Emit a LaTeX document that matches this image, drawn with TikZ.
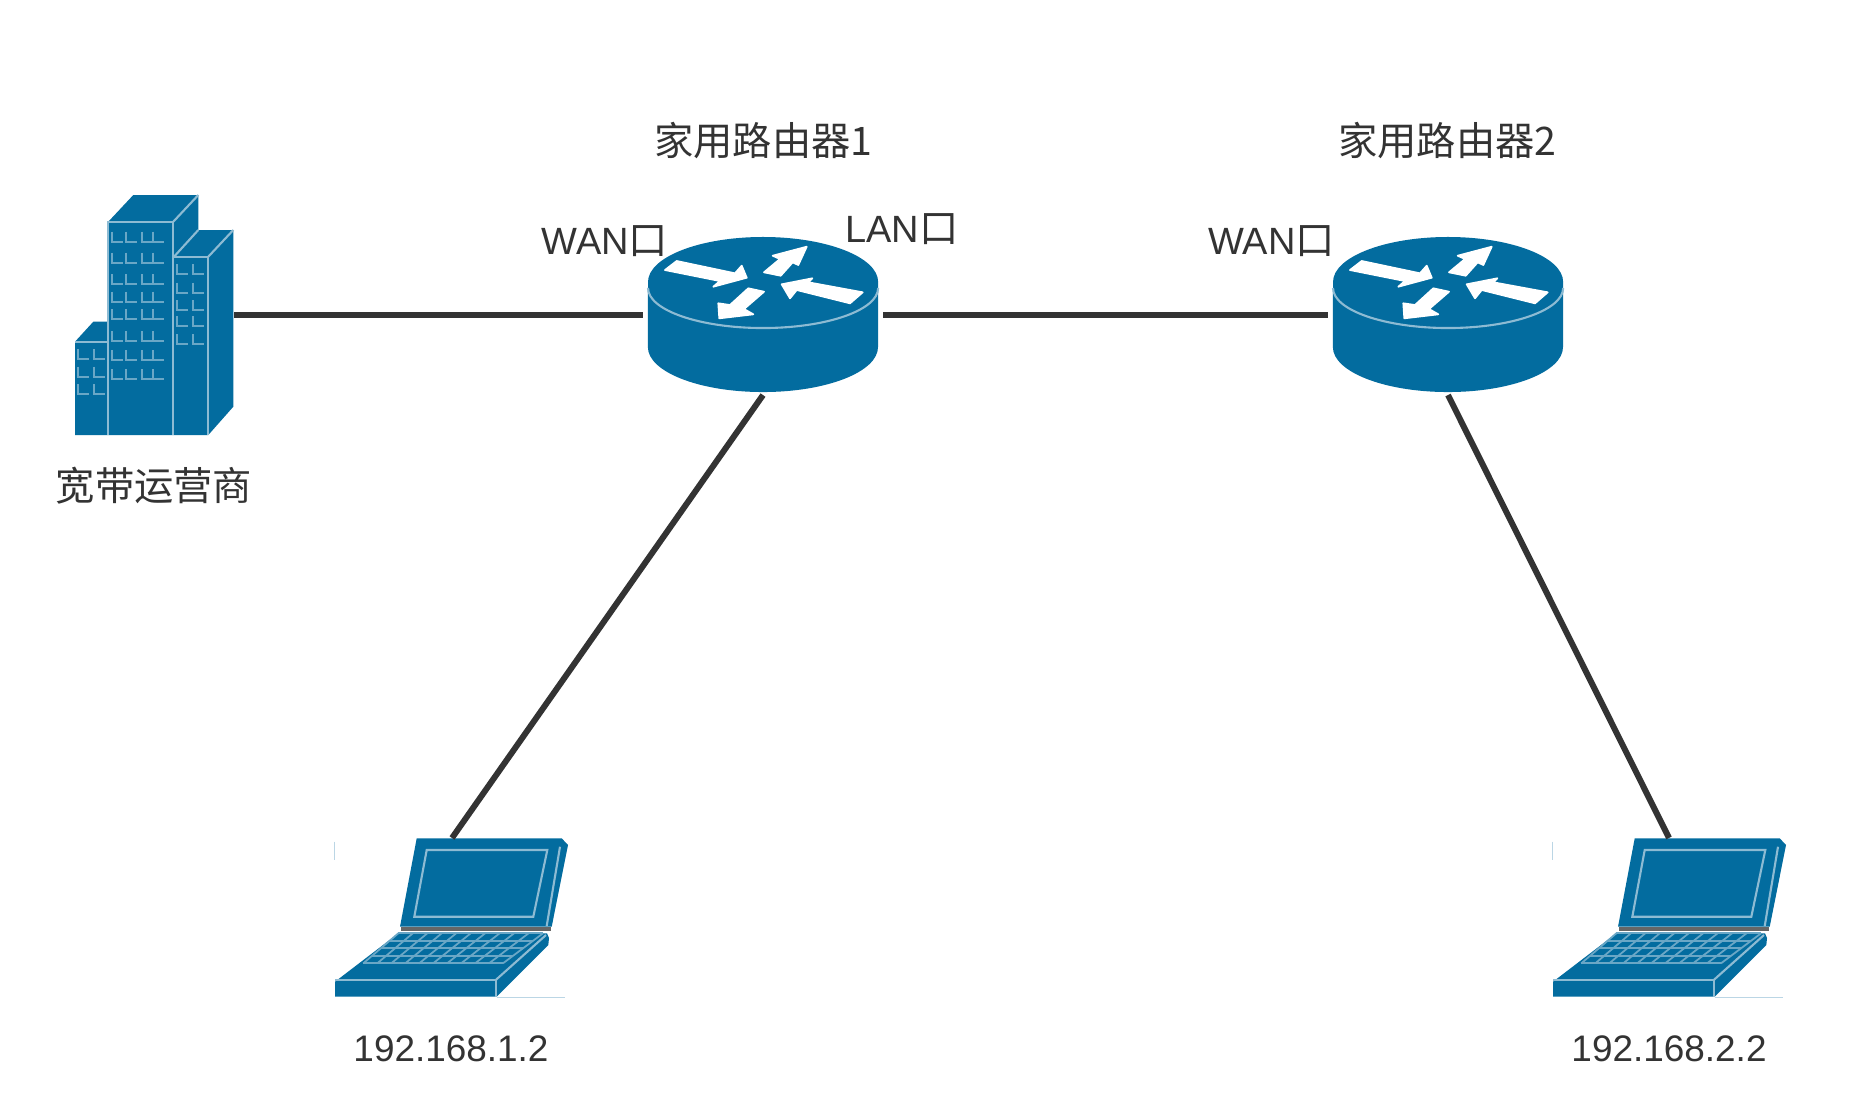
\documentclass[tikz,border=0pt]{standalone}
\usepackage{fontspec}
\setmainfont{Liberation Sans}
\newfontfamily\cjk[Scale=1.035]{Noto Sans CJK SC}
\definecolor{iconblue}{HTML}{036C9F}
\definecolor{iconline}{HTML}{8DBBD3}
\definecolor{wireink}{HTML}{333333}
\tikzset{
    wire/.style={draw=wireink, line width=1.7pt},
    caption/.style={text=wireink, font=\fontsize{10.8}{13}\selectfont, inner sep=0pt},
    ipcaption/.style={caption, font=\fontsize{10.5}{13}\selectfont},
    iconbox/.style={inner sep=0pt, outer sep=0pt},
    edgeline/.style={draw=iconline, line width=.6pt},
    fineline/.style={draw=iconline!75!iconblue, line width=.5pt},
    faintline/.style={draw=iconline!60!white, line width=.4pt},
    arrowmark/.style={fill=white, draw=white, line width=.5pt, line join=round},
    pics/tower/.style={code={
        \fill[iconblue] (0,146.7) -- (18.3,126.7) -- (33.3,126.7) -- (33.3,26.7) -- (58.3,0) -- (123.3,0)
            -- (123.3,35) -- (158.3,35) -- (158.3,211.7) -- (133.3,240) -- (0,240) -- cycle;
        \draw[edgeline] (33.3,240) -- (33.3,26.7) -- (98.3,26.7) -- (98.3,240);
        \draw[edgeline] (98.3,26.7) -- (123.3,0);
        \draw[edgeline] (99,61.7) -- (133.3,61.7) -- (133.3,240);
        \draw[edgeline] (133.3,61.7) -- (158.3,35);
        \draw[edgeline] (99,61.7) -- (123.3,35);
        \draw[edgeline] (0,146.7) -- (33.3,146.7);
        \foreach \wy in {46.7,67.7,89,106.7,124.3,146,165,184.3}
            \foreach \wx in {36.7,51,66.7,78.3}
                \draw[fineline] (\wx,\wy-10) -- (\wx,\wy) -- (\wx+11,\wy);
        \foreach \wy in {79.3,97.7,115,131,149}
            \foreach \wx in {102.3,117.7}
                \draw[fineline] (\wx,\wy-10) -- (\wx,\wy) -- (\wx+11,\wy);
        \foreach \wy in {164,181.7,199.3}
            \foreach \wx in {3.3,19.3}
                \draw[fineline] (\wx,\wy-10) -- (\wx,\wy) -- (\wx+11,\wy);
    }},
    pics/routericon/.style={code={
        \fill[iconblue] (-115,-33) arc[start angle=180, end angle=0, x radius=1.15cm, y radius=.45cm]
            -- (115,32) arc[start angle=0, end angle=-180, x radius=1.15cm, y radius=.45cm] -- cycle;
        \draw[edgeline] (-115,-27) arc[start angle=180, end angle=360, x radius=1.15cm, y radius=.4cm];
        \path[arrowmark] (-98,-45) -- (-86.3,-54) -- (-28,-41.7) -- (-21.3,-49.3) -- (-16.3,-37.3) -- (-49.7,-28.3) -- (-43,-34) -- cycle;
        \path[arrowmark] (1,-42.7) -- (17,-56) -- (9.7,-59.3) -- (43.7,-68.3) -- (35.3,-50) -- (29.7,-52.7) -- (17.7,-39.3) -- cycle;
        \path[arrowmark] (99.7,-22.7) -- (87,-11.7) -- (33.7,-25) -- (27,-16.7) -- (18.7,-30.7) -- (49.3,-36.7) -- (45.3,-32.7) -- cycle;
        \path[arrowmark] (-14.7,-26.7) -- (1,-23.3) -- (-19,-6) -- (-9.7,-.7) -- (-43.7,3.3) -- (-44.7,-11.7) -- (-33,-10) -- cycle;
    }},
    pics/laptopicon/.style={code={
        % lid
        \fill[iconblue] (81.7,.3) -- (226.7,.3) -- (233,7) -- (216.7,88.7) -- (65,88.7) -- cycle;
        \fill[black!60] (66,88.7) rectangle (216,92.7);
        \draw[edgeline] (91.7,12) -- (212.3,12) -- (198.3,78.7) -- (79.3,78.7) -- cycle;
        \draw[edgeline] (225,8.7) -- (211.7,88);
        % keyboard
        \fill[iconblue] (63.3,95.3) -- (212,95.3) -- (214,100) -- (213.3,107) -- (161.7,158.7) -- (0,158.7) -- (0,143.7) -- cycle;
        \draw[edgeline] (0,142) -- (160.7,142) -- (160.7,158.7);
        \draw[edgeline] (160.7,142) -- (211,97);
        \foreach \t in {0,.25,.5,.75,1}
            \draw[fineline] ({63.3-35*\t},{95.3+30*\t}) -- ({208-40*\t},{95.3+30*\t});
        \foreach \k in {0,...,10}
            \draw[fineline] ({63.3+14.47*\k},95.3) -- ({28.3+13.97*\k},125.3);
        \draw[faintline] (161.7,159.3) -- (230,159.3);
        \draw[faintline] (-.7,3.7) -- (-.7,22);
    }},
}
\begin{document}
\begin{tikzpicture}[x=.01cm, y=-.01cm]
    \useasboundingbox (0,0) rectangle (1861,1111);
    \fill[white] (0,0) rectangle (1861,1111);

    % icons, each one under an empty box that the wires end on
    \node[iconbox, minimum width=1.59cm, minimum height=2.4cm] (isp) at (154.5,315) {};
    \pic at (75,195) {tower};
    \node[iconbox, minimum width=2.4cm, minimum height=1.6cm] (router1) at (763,315) {};
    \pic at (763,315) {routericon};
    \node[iconbox, minimum width=2.4cm, minimum height=1.6cm] (router2) at (1448,315) {};
    \pic at (1448,315) {routericon};
    \node[iconbox, minimum width=2.34cm, minimum height=1.59cm] (laptop1) at (452,917.5) {};
    \pic at (335,838) {laptopicon};
    \node[iconbox, minimum width=2.32cm, minimum height=1.59cm] (laptop2) at (1669,917.5) {};
    \pic at (1553,838) {laptopicon};

    \draw[wire] (isp.east) -- (router1.west);
    \draw[wire] (router1.east) -- (router2.west);
    \draw[wire] (router1.south) -- (laptop1.north);
    \draw[wire] (router2.south) -- (laptop2.north);

    \node[caption] (ispname) at (154,486) {\cjk 宽带运营商};
    \node[caption] (router1name) at (763.5,141) {\cjk 家用路由器1};
    \node[caption] (router2name) at (1447.5,141) {\cjk 家用路由器2};
    \node[caption] (wan1) at (605,241) {WAN\cjk 口};
    \node[caption] (lan1) at (902,229) {LAN\cjk 口};
    \node[caption] (wan2) at (1271.5,241) {WAN\cjk 口};
    \node[ipcaption] (ip1) at (451,1049) {192.168.1.2};
    \node[ipcaption] (ip2) at (1669,1049) {192.168.2.2};
\end{tikzpicture}
\end{document}
